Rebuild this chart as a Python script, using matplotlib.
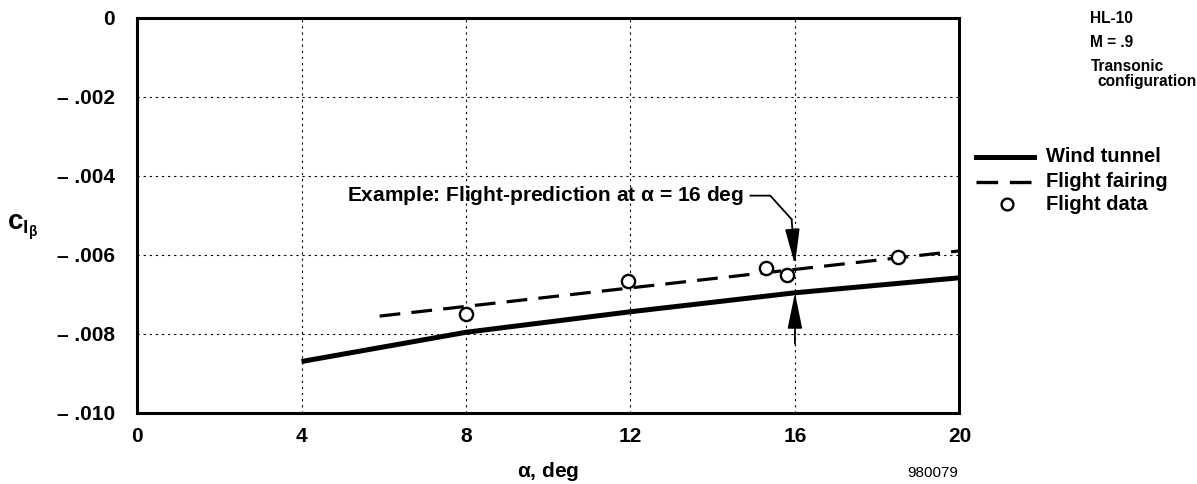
import numpy as np
import matplotlib
matplotlib.use("Agg")
import matplotlib.pyplot as plt

plt.rcParams['font.family'] = ['Liberation Sans', 'DejaVu Sans']
plt.rcParams['mathtext.fontset'] = 'custom'
plt.rcParams['mathtext.rm'] = 'Liberation Sans:bold'
plt.rcParams['mathtext.bf'] = 'Liberation Sans:bold'
plt.rcParams['mathtext.it'] = 'Liberation Sans:bold'

# Data
wt_alpha = [4, 8, 12, 16, 20]
wt_cl = [-0.00870, -0.00796, -0.00744, -0.00696, -0.00658]
fair_alpha = [5.9, 20]
fair_cl = [-0.00755, -0.00590]
fd_alpha = [8.0, 11.95, 15.3, 15.8, 18.5]
fd_cl = [-0.00749, -0.00666, -0.00633, -0.00651, -0.00605]
xticks = [0, 4, 8, 12, 16, 20]
yticks = [0, -0.002, -0.004, -0.006, -0.008, -0.010]
ytick_labels = ['0', '– .002', '– .004', '– .006', '– .008', '– .010']
example_alpha = 16

fig = plt.figure(figsize=(11.97, 4.84), dpi=100)
ax = fig.add_axes([0.1145, 0.147, 0.687, 0.816])

ax.plot(wt_alpha, wt_cl, color='black', lw=3.6, solid_capstyle='butt', zorder=3)
ax.plot(fair_alpha, fair_cl, color='black', lw=2.3, dashes=(6.5, 3.5), zorder=3)
ax.plot(fd_alpha, fd_cl, 'o', ms=9.5, mfc='white', mec='black', mew=1.7, zorder=4)

ax.set_xlim(0, 20)
ax.set_ylim(-0.010, 0)
ax.set_xticks(xticks)
ax.set_xticklabels([str(t) for t in xticks])
ax.set_yticks(yticks)
ax.set_yticklabels(ytick_labels)
ax.tick_params(length=0, labelsize=15)
for lab in ax.get_xticklabels() + ax.get_yticklabels():
    lab.set_fontweight('bold')
ax.tick_params(axis='y', pad=16)
ax.tick_params(axis='x', pad=10)

for s in ax.spines.values():
    s.set_linewidth(2.2)

ax.grid(True, color='black', lw=0.8, linestyle=(0, (2, 3.5)))
ax.set_axisbelow(True)

ax.set_xlabel(r'$\mathregular{\alpha}$, deg', fontsize=15, fontweight='bold', labelpad=10)
fig.text(0.006, 0.530, r'$\mathregular{c}_{\mathregular{l}_{\beta}}$', fontsize=20, fontweight='bold',
         ha='left', va='center')

# Example annotation
ytop = np.interp(example_alpha, fair_alpha, fair_cl)
ybot = np.interp(example_alpha, wt_alpha, wt_cl)
ax.text(5.1, -0.0045, r'Example: Flight-prediction at $\mathregular{\alpha}$ = 16 deg',
        fontsize=15, fontweight='bold', ha='left', va='center')
ax.plot([14.92, 15.4, 15.92], [-0.0045, -0.0045, -0.0051], color='black', lw=1.3)
arrow = dict(arrowstyle='-|>,head_length=2.2,head_width=0.45', color='black', lw=1.3,
             shrinkA=0, shrinkB=0)
ax.annotate('', xy=(example_alpha, ytop + 0.00012), xytext=(15.92, -0.0051), arrowprops=arrow)
ax.annotate('', xy=(example_alpha, ybot), xytext=(example_alpha, -0.00825), arrowprops=arrow)

# Right side texts
fs_r = 11.2
fig.text(0.911, 0.962, 'HL-10', fontsize=fs_r, fontweight='bold', ha='left', va='center')
fig.text(0.911, 0.912, 'M = .9', fontsize=fs_r, fontweight='bold', ha='left', va='center')
fig.text(0.911, 0.862, 'Transonic', fontsize=fs_r, fontweight='bold', ha='left', va='center')
fig.text(0.9165, 0.832, 'configuration', fontsize=fs_r, fontweight='bold', ha='left', va='center')

# Legend
lx0, lx1, tx = 0.815, 0.864, 0.874
fig.add_artist(plt.Line2D([lx0, lx1], [0.676, 0.676], color='black', lw=3.6, transform=fig.transFigure))
fig.text(tx, 0.676, 'Wind tunnel', fontsize=14.5, fontweight='bold', ha='left', va='center')
fig.add_artist(plt.Line2D([lx0, lx1], [0.625, 0.625], color='black', lw=2.4, dashes=(6.5, 3.5),
                          transform=fig.transFigure))
fig.text(tx, 0.625, 'Flight fairing', fontsize=14.5, fontweight='bold', ha='left', va='center')
fig.add_artist(plt.Line2D([0.841], [0.578], marker='o', ms=8.5, mfc='white', mec='black', mew=1.7,
                          linestyle='none', transform=fig.transFigure))
fig.text(tx, 0.578, 'Flight data', fontsize=14.5, fontweight='bold', ha='left', va='center')

fig.text(0.779, 0.008, '980079', fontsize=11, ha='center', va='bottom')

fig.savefig('out.png', dpi=100)
